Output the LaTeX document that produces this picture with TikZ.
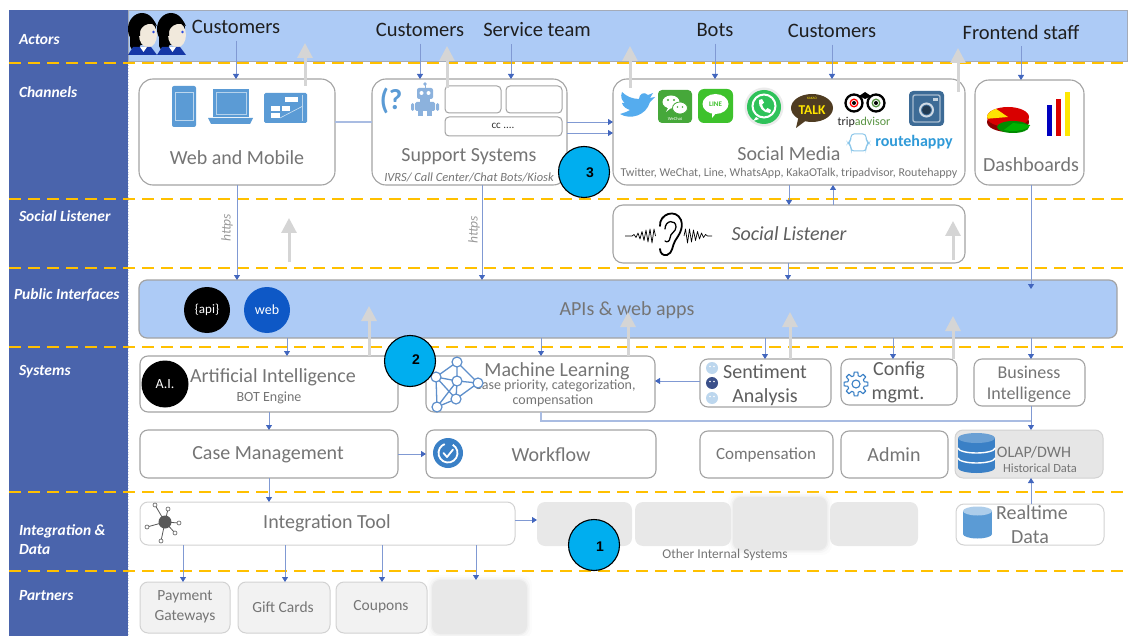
\documentclass[tikz,border=0pt]{standalone}
\usepackage{fontspec}
\setmainfont{Carlito}
\newfontfamily\arialfont{Liberation Sans}
\usetikzlibrary{arrows.meta,calc,fit}

\definecolor{sidebar}{HTML}{4A64AC}
\definecolor{bandblue}{HTML}{ADCBF6}
\definecolor{bandline}{HTML}{A4ABB8}
\definecolor{laneyellow}{HTML}{FFC000}
\definecolor{boxline}{HTML}{A3A3A3}
\definecolor{softline}{HTML}{D2D2D2}
\definecolor{labelgray}{HTML}{757575}
\definecolor{darklabel}{HTML}{5E5E5E}
\definecolor{protogray}{HTML}{9A9A9A}
\definecolor{flowline}{HTML}{8099D3}
\definecolor{flowhead}{HTML}{4266BE}
\definecolor{linkblue}{HTML}{A9BCE2}
\definecolor{ghost}{HTML}{D5D5D5}
\definecolor{badge}{HTML}{00AEEF}
\definecolor{iconblue}{HTML}{5B9BD5}
\definecolor{deepblue}{HTML}{3A80C6}
\definecolor{netblue}{HTML}{5E8FCB}
\definecolor{robotblue}{HTML}{8CB2DD}
\definecolor{blockgray}{HTML}{E8E8E8}
\definecolor{partnerfill}{HTML}{F2F2F2}
\definecolor{olapfill}{HTML}{E6E6E6}
\definecolor{twitterblue}{HTML}{55ACEE}
\definecolor{wechatgreen}{HTML}{46A83A}
\definecolor{linegreen}{HTML}{3EC22C}
\definecolor{wagreen}{HTML}{2FC25A}
\definecolor{kakaobrown}{HTML}{4F3C22}
\definecolor{kakaoyellow}{HTML}{FFE600}
\definecolor{tagreen}{HTML}{589442}
\definecolor{instablue}{HTML}{3D6B96}
\definecolor{rhblue}{HTML}{2F9AD8}
\definecolor{webblue}{HTML}{0E58C6}
\definecolor{skin}{HTML}{F1E9DC}
\definecolor{collar}{HTML}{1537A6}
\definecolor{eyeblue}{HTML}{2C4BE0}

\begin{document}
\begin{tikzpicture}[
  x=1pt, y=-1pt,
  every node/.style={inner sep=0pt, outer sep=0pt},
  lane/.style={draw=laneyellow, line width=2pt, dash pattern=on 12pt off 7pt},
  lanelabel/.style={anchor=west, align=left, text=white,
     font=\fontsize{15.5}{19}\selectfont\bfseries\itshape},
  actor/.style={font=\fontsize{20.5}{23}\selectfont, text=black!88, outer ysep=7pt},
  chanbox/.style={draw=boxline, line width=1.1pt, rounded corners=14pt, fill=white},
  sysbox/.style={draw=boxline, line width=1.1pt, rounded corners=8pt, fill=white},
  softbox/.style={draw=softline, line width=1pt, rounded corners=8pt, fill=white},
  slot/.style={draw=boxline, line width=1pt, rounded corners=4pt, fill=white},
  grayblock/.style={fill=blockgray, rounded corners=8pt},
  partner/.style={draw=softline, line width=1pt, rounded corners=8pt, fill=partnerfill},
  title/.style={font=\fontsize{20}{22}\selectfont, text=labelgray},
  minor/.style={font=\fontsize{14}{16}\selectfont, text=labelgray},
  proto/.style={rotate=90, font=\fontsize{13.5}{15}\selectfont\itshape, text=protogray},
  flow/.style={draw=flowline, line width=0.9pt, -{Triangle[length=5pt,width=6pt,color=flowhead]}},
  link/.style={draw=linkblue, line width=1.1pt},
  ghostarrow/.style={draw=ghost, line width=3pt, -{Triangle[length=15pt,width=15pt]}},
  badgecircle/.style={circle, draw=black, line width=1.1pt, fill=badge, minimum size=51pt},
  badgenum/.style={font=\arialfont\bfseries\fontsize{14}{16}\selectfont},
  netnode/.style={circle, draw=netblue, fill=white, line width=1.2pt, minimum size=10pt}
]
\useasboundingbox (0,0) rectangle (1129,636);

% ---------- lanes ----------
\fill[sidebar] (9,10) rectangle (128,636);
\draw[white!70!sidebar, dotted, line width=0.8pt] (128,12) -- (128,636);
\draw[bandline, fill=bandblue, line width=0.8pt] (128,10) rectangle (1127,61);
\foreach \yy in {63,199,268,347,492,571} \draw[lane] (9,\yy) -- (1129,\yy);

\node[lanelabel] (tActors) at (19,40) {Actors};
\node[lanelabel] (tChannels) at (19,92) {Channels};
\node[lanelabel] (tListener) at (19,216) {Social Listener};
\node[lanelabel] (tPublic) at (14,295) {Public Interfaces};
\node[lanelabel] (tSystems) at (19,372) {Systems};
\node[lanelabel] (tIntegration) at (19,540) {Integration \&\\Data};
\node[lanelabel] (tPartners) at (19,596) {Partners};

% ---------- actors ----------
\foreach \hx in {128,157} {
  \begin{scope}[shift={(\hx,12)}]
    \fill[black] (14,17) ellipse[x radius=14, y radius=16];
    \fill[black] (2,20) -- (2,34) .. controls (4,38) .. (10,38) -- (14,30) -- cycle;
    \fill[skin] (20,23) ellipse[x radius=9, y radius=12.5];
    \fill[black] (5,9) .. controls (12,2) and (25,3) .. (29,14) .. controls (24,10) and (17,11) .. (13,17) .. controls (12,19) .. (12,24) -- (8,24) -- cycle;
    \fill[eyeblue] (25.5,20) circle (1.3);
    \fill[collar] (5,35) -- (23,35) -- (29,43) -- (0,43) -- cycle;
    \fill[white] (12,35) -- (19,35) -- (15.5,40) -- cycle;
  \end{scope}
}
\node[actor] (custA) at (236,27) {Customers};
\node[actor] (custB) at (420,30) {Customers};
\node[actor] (service) at (537,30) {Service team};
\node[actor] (bots) at (715,30) {Bots};
\node[actor] (custC) at (832,31) {Customers};
\node[actor] (staff) at (1021,32) {Frontend staff};

% ---------- channels ----------
\node[chanbox, fit={(139,79) (335,185)}] (webmob) {};
\node[chanbox, fit={(372,79) (567,185)}] (support) {};
\node[chanbox, fit={(613,79) (965,185)}] (social) {};
\node[chanbox, fit={(975,80) (1084,185)}] (dash) {};

\node[title] (webmobT) at (237,158) {Web and Mobile};
\node[title] (supportT) at (469,157) {Support Systems};
\node[font=\fontsize{12.5}{14}\selectfont\itshape, text=labelgray] (supportS) at (469,177) {IVRS/ Call Center/Chat Bots/Kiosk};
\node[title] (socialT) at (789,154) {Social Media};
\node[font=\fontsize{12}{14}\selectfont, text=labelgray] (socialS) at (789,173) {Twitter, WeChat, Line, WhatsApp, KakaOTalk, tripadvisor, Routehappy};
\node[title] (dashT) at (1031,165) {Dashboards};

% web and mobile devices
\fill[iconblue, rounded corners=2pt] (172,86) rectangle (196,127);
\draw[white!60!iconblue, line width=0.6pt] (175,92) rectangle (193,120);
\fill[iconblue] (213,89) rectangle (249,117);
\draw[white!55!iconblue, line width=0.7pt] (216,92) rectangle (246,114);
\fill[iconblue] (208,118) -- (253,118) -- (250,124) -- (211,124) -- cycle;
\fill[iconblue, rounded corners=1.5pt] (264,93) rectangle (307,123);
\fill[white] (285,97) rectangle (298,102);
\fill[white] (271,106) rectangle (280,111);
\fill[white] (282,106) rectangle (290,111);
\fill[white] (271,113) rectangle (280,118);
\draw[white!70!iconblue, line width=0.6pt] (280,118) -- (303,106);
\draw[white!60!iconblue, line width=0.5pt] (302,95) -- (302,121);

% support systems
\node[font=\bfseries\fontsize{29}{30}\selectfont, text=iconblue] (helpGlyph) at (391,101) {(?};
\fill[robotblue] (425,84) circle (1.8);
\draw[robotblue, line width=1pt] (425,84) -- (425,88);
\fill[robotblue, rounded corners=2pt] (417,88) rectangle (433,99);
\fill[white] (421.5,93) circle (2);
\fill[white] (428.5,93) circle (2);
\fill[robotblue] (420,99) rectangle (430,102);
\fill[robotblue, rounded corners=1.5pt] (415,102) rectangle (435,111);
\fill[robotblue, rounded corners=1.5pt] (411,103) rectangle (414,111);
\fill[robotblue, rounded corners=1.5pt] (436,103) rectangle (439,111);
\fill[robotblue] (418,111) rectangle (423,116);
\fill[robotblue] (427,111) rectangle (432,116);
\node[slot, fit={(445,86) (501,113)}] (slotA) {};
\node[slot, fit={(506,86) (562,113)}] (slotB) {};
\node[slot, fit={(445,117) (562,136)}] (slotC) {};
\node[font=\fontsize{11}{13}\selectfont, text=black!80] (slotCT) at (503,126) {cc ....};

% social media logos
\fill[twitterblue] (620,114) .. controls (630,120) and (646,116) .. (650,102) -- (655,97) -- (650,98) -- (653,93) -- (648,95) .. controls (644,91) and (639,94) .. (639,99) .. controls (632,99) and (626,96) .. (622,92) .. controls (620,97) and (622,101) .. (625,103) -- (622,103) .. controls (623,107) and (627,109) .. (630,110) .. controls (627,112) and (623,113) .. (620,114) -- cycle;
\fill[wechatgreen, rounded corners=4pt] (658,90) rectangle (692,123);
\fill[white] (671,102) ellipse[x radius=8.5, y radius=6.5];
\fill[white] (668,108) -- (666,112) -- (671,108) -- cycle;
\fill[wechatgreen] (668,100) circle (1.1);
\fill[wechatgreen] (674,100) circle (1.1);
\filldraw[fill=white, draw=wechatgreen, line width=0.8pt] (680,108) ellipse[x radius=7.5, y radius=6];
\fill[wechatgreen] (677.5,107) circle (0.9);
\fill[wechatgreen] (682.5,107) circle (0.9);
\node[font=\fontsize{4.5}{5}\selectfont, text=white] (wechatT) at (675,119) {WeChat};
\fill[linegreen, rounded corners=6pt] (698,89) rectangle (733,123);
\fill[white] (715.5,104) ellipse[x radius=13, y radius=10];
\fill[white] (712,112) -- (717,112) -- (712,118) -- cycle;
\node[font=\bfseries\fontsize{7}{8}\selectfont, text=linegreen] (lineT) at (715.5,104) {LINE};
\fill[black!8] (764,107) circle (19.5);
\fill[wagreen] (764,107) circle (17);
\draw[white, line width=2pt] (764,106) circle (11.5);
\fill[white] (756,117) -- (753,121) -- (759,119) -- cycle;
\fill[white] (759,100) .. controls (758,107) and (763,113) .. (770,113) -- (771,110) -- (767.5,108) -- (765.5,110) .. controls (763.5,108.5) and (762.5,106.5) .. (762,104.5) -- (764,102.5) -- (762,99) -- cycle;
\fill[kakaobrown] (812,108) ellipse[x radius=21, y radius=14];
\fill[kakaobrown] (799,115) -- (796,128) -- (808,119) -- cycle;
\node[font=\bfseries\fontsize{13.5}{15}\selectfont, text=kakaoyellow] (kakaoT) at (812,110) {TALK};
\node[font=\fontsize{3.5}{4}\selectfont, text=kakaoyellow] (kakaoS) at (812,98) {KAKAO};
\foreach \ex/\pc in {854/red, 876/tagreen} {
  \draw[black, line width=2.3pt, fill=white] (\ex,103) circle (8.5);
  \draw[\pc, line width=1.3pt] (\ex,103) circle (3.8);
  \fill[black] (\ex,103) circle (2);
}
\fill[black] (859,96) -- (865,92) -- (871,96) -- (865,99) -- cycle;
\node[font=\fontsize{12}{13}\selectfont] (tripT) at (864,122) {\textcolor{black!85}{trip}\textcolor{tagreen}{advisor}};
\fill[instablue, rounded corners=4pt] (909,91) rectangle (944,126);
\draw[white!55!instablue, line width=1.4pt, rounded corners=2pt] (913,95) rectangle (940,122);
\draw[white!75!instablue, line width=2pt] (926.5,110) circle (6.5);
\fill[instablue!55!black] (926.5,110) circle (4.5);
\fill[white!70!instablue] (933,98) rectangle (937.5,101.5);
\draw[rhblue!55!white, line width=1pt, rounded corners=3pt] (851,134) -- (866,134) -- (866,140) -- (869,143) -- (866,146) -- (866,151) -- (851,151) -- (851,146) -- (848,143) -- (851,140) -- cycle;
\node[font=\bfseries\fontsize{16}{18}\selectfont, text=rhblue] (rhT) at (914,142) {routehappy};

% dashboard charts
\fill[red!55!black] (1008,122) ellipse[x radius=21, y radius=10];
\fill[red!85!black] (1008,117) ellipse[x radius=21, y radius=10];
\fill[yellow!85!orange] (1008,117) -- ++(170:21 and 10) arc[start angle=170, end angle=235, x radius=21, y radius=10] -- cycle;
\fill[green!55!black] (1013,127) ellipse[x radius=16, y radius=6];
\fill[green!70!black] (1013,123) -- ++(15:18 and 8) arc[start angle=15, end angle=120, x radius=18, y radius=8] -- cycle;
\fill[blue!75!black] (1047,105) rectangle (1052,136);
\fill[red!85!black] (1056,99) rectangle (1061,136);
\fill[yellow!90!orange] (1065,92) rectangle (1070,136);

% ---------- social listener ----------
\node[sysbox, rounded corners=10pt, fit={(613,205) (965,263)}] (listener) {};
\node[font=\fontsize{20}{22}\selectfont\itshape, text=darklabel] (listenerT) at (789,234) {Social Listener};
\draw[black, line width=0.7pt, line join=round] (625,236) -- (632,236) -- (634,234.5) -- (636,237.5) -- (638,233) -- (640,239) -- (642,231.5) -- (644,240.5) -- (646,230) -- (648,242) -- (650,229) -- (652,243) -- (654,229) -- (655.5,236);
\draw[black, line width=0.7pt, line join=round] (684,236) -- (685.5,229) -- (687.5,243) -- (689.5,229) -- (691.5,242) -- (693.5,230) -- (695.5,240.5) -- (697.5,231.5) -- (699.5,239) -- (701.5,233) -- (703.5,237.5) -- (705.5,234.5) -- (707.5,236) -- (712,236);
\draw[black, line width=1.8pt, line cap=round] (660,226) .. controls (659,214) and (676,208) .. (681,220) .. controls (684,229) and (678,236) .. (675,241) .. controls (672,246) and (673,253) .. (667,255) .. controls (663,256) and (660,253) .. (660,249);
\draw[black, line width=1.3pt, line cap=round] (665,229) .. controls (665,220) and (676,219) .. (676,227) .. controls (676,232) and (670,233) .. (670,238) .. controls (670,241) and (667,243) .. (665,241);

% ---------- public interfaces ----------
\node[draw=boxline, fill=bandblue, line width=1.2pt, rounded corners=8pt, fit={(139,280) (1117,338)}] (apis) {};
\node[title] (apisT) at (627,310) {APIs \& web apps};
\node[circle, fill=black, minimum size=46pt, text=white, font=\fontsize{13}{15}\selectfont] (apiDot) at (207,310) {\{api\}};
\node[circle, fill=webblue, minimum size=46pt, text=white, font=\fontsize{14}{16}\selectfont] (webDot) at (267,310) {web};

% ---------- systems ----------
\node[sysbox, fit={(140,356) (398,412)}] (ai) {};
\node[sysbox, fit={(426,356) (655,412)}] (ml) {};
\node[sysbox, fit={(700,359) (831,407)}] (sentiment) {};
\node[sysbox, fit={(841,359) (957,405)}] (config) {};
\node[sysbox, fit={(974,359) (1085,406)}] (bi) {};
\node[sysbox, fit={(140,430) (398,478)}] (casemgmt) {};
\node[sysbox, fit={(426,430) (656,478)}] (workflow) {};
\node[sysbox, fit={(700,431) (833,478)}] (compensation) {};
\node[sysbox, fit={(841,431) (948,478)}] (admin) {};
\node[draw=softline, fill=olapfill, line width=1pt, rounded corners=8pt, fit={(955,430) (1103,478)}] (olap) {};

\node[circle, fill=black, minimum size=47pt, text=white, font=\fontsize{14}{16}\selectfont] (aiDot) at (165,384) {A.I.};
\node[title] (aiT) at (273,377) {Artificial Intelligence};
\node[minor] (aiS) at (269,398) {BOT Engine};

\node[title] (mlT) at (557,371) {Machine Learning};
\node[minor] (mlA) at (555,386) {Case priority, categorization,};
\node[minor] (mlB) at (553,401) {compensation};
\draw[netblue, line width=1.3pt]
  (457,362) -- (436,377) (457,362) -- (457,381) (457,362) -- (478,383)
  (436,377) -- (457,381) (436,377) -- (437,407) (457,381) -- (478,383)
  (457,381) -- (456,399) (457,381) -- (437,407) (478,383) -- (456,399)
  (456,399) -- (437,407) (436,377) -- (456,399);
\foreach \nx/\ny in {457/362, 436/377, 457/381, 478/383, 456/399, 437/407}
  \node[netnode] at (\nx,\ny) {};

\fill[iconblue!40!white] (712,368) circle (6);
\fill[sidebar!80!black] (712,383) circle (6);
\fill[iconblue!40!white] (712,398) circle (6);
\foreach \fy in {368,383,398} {
  \fill[white] (710,\fy-1.5) circle (0.9);
  \fill[white] (714,\fy-1.5) circle (0.9);
}
\node[title, text=darklabel] (sentA) at (765,372) {Sentiment};
\node[title, text=darklabel] (sentB) at (765,397) {Analysis};

\begin{scope}[shift={(856,384)}]
  \draw[deepblue, line width=1.1pt, line join=round] (-9:12) \foreach \a in {0,45,...,315} { -- (\a-9:12) -- (\a+9:12) -- (\a+15:8.5) -- (\a+30:8.5) } -- cycle;
  \draw[deepblue, line width=1.1pt] (0,0) circle (4);
\end{scope}
\node[title, text=darklabel] (cfgA) at (899,370) {Config};
\node[title, text=darklabel] (cfgB) at (898,395) {mgmt.};

\node[font=\fontsize{18}{20}\selectfont, text=labelgray] (biA) at (1029,372) {Business};
\node[font=\fontsize{18}{20}\selectfont, text=labelgray] (biB) at (1029,395) {Intelligence};

\node[title] (cmT) at (268,455) {Case Management};
\fill[deepblue] (448,453) circle (15);
\draw[white, line width=1.8pt] ($(448,453)+(-60:9.5)$) arc[start angle=-60, end angle=250, radius=9.5];
\draw[white, line width=1.8pt, line cap=round, line join=round] (443.5,453) -- (447,457) -- (453,449.5);
\node[title] (wfT) at (551,455) {Workflow};
\node[font=\fontsize{17}{19}\selectfont, text=labelgray] (compT) at (766,455) {Compensation};
\node[title] (adminT) at (894,455) {Admin};

\fill[deepblue] (958,438) rectangle (995,468);
\fill[deepblue] (976.5,468) ellipse[x radius=18.5, y radius=5];
\fill[deepblue!75!white] (976.5,438) ellipse[x radius=18.5, y radius=5];
\draw[white, line width=1.4pt] (958,448) arc[start angle=180, end angle=0, x radius=18.5, y radius=5];
\draw[white, line width=1.4pt] (958,458) arc[start angle=180, end angle=0, x radius=18.5, y radius=5];
\node[font=\fontsize{16}{18}\selectfont, text=labelgray] (olapA) at (1034,452) {OLAP/DWH};
\node[font=\fontsize{12.5}{14}\selectfont, text=labelgray] (olapB) at (1040,468.5) {Historical Data};

% ---------- integration and data ----------
\node[softbox, fit={(140,502) (515,545)}] (integ) {};
\foreach \px/\py in {155/505, 168/509, 147/527, 179/523, 175/533, 161/541} {
  \draw[gray!70!black, line width=0.8pt] (165,522) -- (\px,\py);
  \draw[gray!70!black, fill=white, line width=0.6pt] (\px,\py) circle (2);
}
\fill[gray!70!black] (165,522) circle (6.5);
\node[title] (integT) at (327,523) {Integration Tool};

\node[grayblock, fit={(537,502) (632,546)}] (otherA) {};
\node[grayblock, fit={(635,502) (731,546)}] (otherB) {};
\foreach \g/\o in {5/0.12, 3/0.25, 1.5/0.45}
  \fill[blockgray, opacity=\o, rounded corners=10pt] (733-\g,497-\g) rectangle (827+\g,550+\g);
\node[grayblock, fit={(733,497) (827,550)}] (otherC) {};
\node[grayblock, fit={(830,502) (918,546)}] (otherD) {};
\node[font=\fontsize{13.5}{15}\selectfont, text=labelgray] (otherT) at (725,555) {Other Internal Systems};

\node[softbox, fit={(956,504) (1104,545)}] (realtime) {};
\fill[iconblue] (963,511) rectangle (992,534);
\fill[iconblue] (977.5,534) ellipse[x radius=14.5, y radius=4.5];
\fill[iconblue!50!white] (977.5,511) ellipse[x radius=14.5, y radius=4.5];
\node[title] (rtA) at (1032,513) {Realtime};
\node[title] (rtB) at (1030,537) {Data};

% ---------- partners ----------
\node[partner, fit={(140,582) (230,633)}] (payment) {};
\node[partner, fit={(238,582) (330,633)}] (giftcards) {};
\node[partner, fit={(336,582) (427,633)}] (coupons) {};
\foreach \g/\o in {5/0.12, 3/0.25, 1.5/0.45}
  \fill[blockgray, opacity=\o, rounded corners=10pt] (432-\g,580-\g) rectangle (527+\g,634+\g);
\node[grayblock, fit={(432,580) (527,634)}] (partnerX) {};
\node[font=\fontsize{15.5}{17}\selectfont, text=labelgray] (payA) at (185,597) {Payment};
\node[font=\fontsize{15.5}{17}\selectfont, text=labelgray] (payB) at (185,617) {Gateways};
\node[font=\fontsize{15.5}{17}\selectfont, text=labelgray] (giftT) at (283,607) {Gift Cards};
\node[font=\fontsize{15.5}{17}\selectfont, text=labelgray] (couponT) at (381,607) {Coupons};

% ---------- connectors ----------
\draw[flow] (custA.south) -- (custA.south |- webmob.north);
\draw[flow] (custB.south) -- (custB.south |- support.north);
\draw[flow] (service.south -| 511,0) -- (511,0 |- support.north);
\draw[flow] (bots.south) -- (bots.south |- social.north);
\draw[flow] (custC.south) -- (custC.south |- social.north);
\draw[flow] (staff.south) -- (staff.south |- dash.north);

\draw[link] (webmob.east |- 0,122) -- (support.west |- 0,122);
\draw[flow] (support.east |- 0,122) -- (social.west |- 0,122);
\draw[flow] (support.east |- 0,133) -- (social.west |- 0,133);

\draw[flow] (webmob.south) -- (webmob.south |- apis.north);
\node[proto] (httpsA) at (227,228) {https};
\draw[flow] (support.south -| 482,0) -- (482,0 |- apis.north);
\node[proto] (httpsB) at (474,230) {https};

\draw[flow] (social.south -| 789,0) -- (789,0 |- listener.north);
\draw[flow] (listener.north -| 833,0) -- (833,0 |- social.south);
\draw[flow] (listener.south -| 788,0) -- (788,0 |- apis.north);
\coordinate (dashDrop) at (1031,289);
\draw[flow] (dash.south -| dashDrop) -- (dashDrop);

\draw[flow] (apis.south -| 287,0) -- (287,0 |- ai.north);
\draw[flow] (apis.south -| 541,0) -- (541,0 |- ml.north);
\draw[flow] (apis.south -| 765,0) -- (765,0 |- sentiment.north);
\draw[flow] (apis.south -| 893,0) -- (893,0 |- config.north);
\draw[flow] (apis.south -| 1031,0) -- (1031,0 |- bi.north);

\draw[flow] (ai.south -| 269,0) -- (269,0 |- casemgmt.north);
\draw[flow] (casemgmt.east |- 0,454) -- (workflow.west |- 0,454);
\draw[flow] (sentiment.west |- 0,381) -- (ml.east |- 0,381);
\coordinate (mlBend) at (541,421);
\coordinate (dwhJoin) at (1031,421);
\draw[link] (ml.south -| mlBend) -- (mlBend) -- (dwhJoin);
\draw[flow] (bi.south -| 1031,0) -- (1031,0 |- olap.north);
\draw[flow] (realtime.north -| 1031,0) -- (1031,0 |- olap.south);

\draw[flow] (casemgmt.south -| 269,0) -- (269,0 |- integ.north);
\draw[flow] (integ.east |- 0,520) -- (otherA.west |- 0,520);
\draw[flow] (integ.south -| 183,0) -- (183,0 |- payment.north);
\draw[flow] (integ.south -| 285,0) -- (285,0 |- giftcards.north);
\draw[flow] (integ.south -| 382,0) -- (382,0 |- coupons.north);
\draw[flow] (integ.south -| 476,0) -- (476,0 |- partnerX.north);

% feedback arrows
\draw[ghostarrow] (305,86) -- (305,43);
\draw[ghostarrow] (447,88) -- (447,46);
\draw[ghostarrow] (630,88) -- (630,46);
\draw[ghostarrow] (958,92) -- (958,48);
\draw[ghostarrow] (289,262) -- (289,218);
\draw[ghostarrow] (953,260) -- (953,221);
\draw[ghostarrow] (369,356) -- (369,306);
\draw[ghostarrow] (628,356) -- (628,312);
\draw[ghostarrow] (790,359) -- (790,312);
\draw[ghostarrow] (953,359) -- (953,316);

% ---------- numbered markers ----------
\node[badgecircle] (markThree) at (584,172) {};
\node[badgenum] (markThreeT) at (590,173) {3};
\node[badgecircle] (markTwo) at (410,361) {};
\node[badgenum] (markTwoT) at (416,360) {2};
\node[badgecircle] (markOne) at (594,545) {};
\node[badgenum] (markOneT) at (600,547) {1};

\end{tikzpicture}
\end{document}
